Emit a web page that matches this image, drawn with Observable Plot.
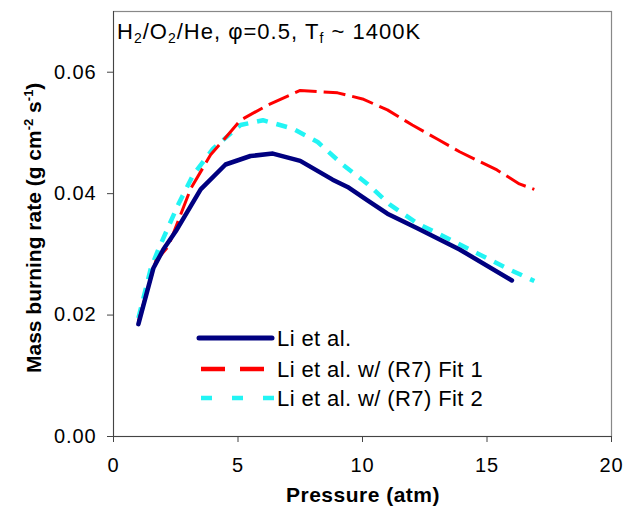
<!DOCTYPE html>
<html><head><meta charset="utf-8">
<script src="https://cdn.jsdelivr.net/npm/d3@7"></script>
<script src="https://cdn.jsdelivr.net/npm/@observablehq/plot@0.6"></script>
<style>
body{margin:0;background:#fff;}
#chart{position:relative;width:629px;height:506px;}
</style>
</head><body><div id="chart"></div>
<script>
const seriesNames = ["Li et al.", "Li et al. w/ (R7) Fit 1", "Li et al. w/ (R7) Fit 2"];
const liP = [1.0, 1.6, 2.0, 2.5, 3.5, 4.5, 5.5, 6.4, 7.5, 8.8, 9.4, 10.2, 11.0, 12.2, 13.9, 16.0];
const liM = [0.0185, 0.0277, 0.0308, 0.0338, 0.0407, 0.0448, 0.0462, 0.0466, 0.0454, 0.0423, 0.0411, 0.0389, 0.0367, 0.0343, 0.0308, 0.0257];
const fit1P = [1.0, 1.7, 2.2, 3.1, 3.9, 4.6, 5.1, 6.2, 7.5, 9.0, 10.0, 11.0, 12.0, 13.0, 13.9, 15.4, 16.3, 16.9];
const fit1M = [0.0190, 0.0289, 0.0313, 0.0408, 0.0464, 0.0497, 0.0521, 0.0546, 0.0570, 0.0566, 0.0556, 0.0538, 0.0513, 0.0490, 0.0469, 0.0439, 0.0416, 0.0407];
const fit2P = [1.0, 1.5, 1.8, 2.6, 3.2, 4.0, 5.1, 6.0, 7.2, 8.2, 9.2, 10.2, 11.1, 12.2, 13.1, 14.6, 15.8, 16.9];
const fit2M = [0.0195, 0.0277, 0.0308, 0.0382, 0.0431, 0.0474, 0.0513, 0.0521, 0.0507, 0.0485, 0.0448, 0.0416, 0.0382, 0.0351, 0.0333, 0.0302, 0.0277, 0.0256];
const xTicks = [0, 5, 10, 15, 20];
const yTicks = [0, 0.02, 0.04, 0.06];

const mk = (P, M) => P.map((p, i) => ({p, m: M[i]}));
const li = mk(liP, liM), f1 = mk(fit1P, fit1M), f2 = mk(fit2P, fit2M);

const FONT = "Liberation Sans, Arial, Helvetica, sans-serif";
const styles = [
  {stroke: "#000080", strokeWidth: 4.5, strokeDasharray: null, strokeLinecap: "round", strokeLinejoin: "round"},
  {stroke: "#ff0000", strokeWidth: 3, strokeDasharray: "22,7", strokeLinecap: "butt"},
  {stroke: "#22f4f4", strokeWidth: 4.5, strokeDasharray: "11,9", strokeLinecap: "butt"}
];

const plot = Plot.plot({
  width: 629, height: 506,
  marginLeft: 113, marginRight: 18, marginTop: 11, marginBottom: 70,
  style: {fontFamily: FONT, fontSize: "20px", background: "#fff", color: "#000", letterSpacing: "0.9px"},
  x: {domain: [0, 20], label: null},
  y: {domain: [0, 0.07], label: null},
  marks: [
    Plot.frame({stroke: "#888", strokeWidth: 1.2}),
    Plot.axisX({ticks: xTicks, tickSize: 6, tickPadding: 15, fontSize: 20, stroke: "#444"}),
    Plot.axisY({ticks: yTicks, tickSize: 6, tickPadding: 11, fontSize: 20, tickFormat: d3.format(".2f"), stroke: "#444"}),
    Plot.ruleY([0], {stroke: "#444"}),
    Plot.ruleX([0], {stroke: "#444"}),
    Plot.line(f2, {x: "p", y: "m", ...styles[2]}),
    Plot.line(f1, {x: "p", y: "m", ...styles[1]}),
    Plot.line(li, {x: "p", y: "m", ...styles[0]})
  ]
});
document.getElementById("chart").appendChild(plot);

const svg = d3.select(plot);
const txt = (sel) => sel.attr("font-family", FONT).attr("fill", "#000").style("text-anchor", "start");

// annotation
const ann = txt(svg.append("text")).attr("x", 117).attr("y", 39).style("font-size", "22px").style("letter-spacing", "1px");
ann.append("tspan").text("H");
ann.append("tspan").style("font-size", "14px").attr("dy", 4).text("2");
ann.append("tspan").attr("dy", -4).text("/O");
ann.append("tspan").style("font-size", "14px").attr("dy", 4).text("2");
ann.append("tspan").attr("dy", -4).text("/He, φ=0.5, T");
ann.append("tspan").style("font-size", "14px").attr("dy", 4).text("f");
ann.append("tspan").attr("dy", -4).text(" ~ 1400K");

// axis titles
txt(svg.append("text")).attr("x", 363).attr("y", 502).style("text-anchor", "middle")
  .style("font-size", "21px").style("letter-spacing", "0.5px").attr("font-weight", "bold").text("Pressure (atm)");
const yl = txt(svg.append("text")).attr("transform", "translate(41,373) rotate(-90)")
  .style("font-size", "21px").style("letter-spacing", "0px").attr("font-weight", "bold");
yl.append("tspan").text("Mass burning rate (g cm");
yl.append("tspan").style("font-size", "13px").attr("dy", -8).text("-2");
yl.append("tspan").attr("dy", 8).text(" s");
yl.append("tspan").style("font-size", "13px").attr("dy", -8).text("-1");
yl.append("tspan").attr("dy", 8).text(")");

// legend
const legY = [338, 369, 398];
const legDash = [null, "24,15", "11,20"];
seriesNames.forEach((name, i) => {
  const s = styles[i];
  svg.append("line").attr("x1", i === 0 ? 199 : 201).attr("x2", i === 0 ? 272 : 274).attr("y1", legY[i]).attr("y2", legY[i])
    .attr("stroke", s.stroke).attr("stroke-width", i === 0 ? 5 : 4.5)
    .attr("stroke-dasharray", legDash[i]).attr("stroke-linecap", s.strokeLinecap);
  txt(svg.append("text")).attr("x", 277).attr("y", legY[i] + 8).style("font-size", "22px").style("letter-spacing", "0.4px").text(name);
});
</script>
</body></html>
